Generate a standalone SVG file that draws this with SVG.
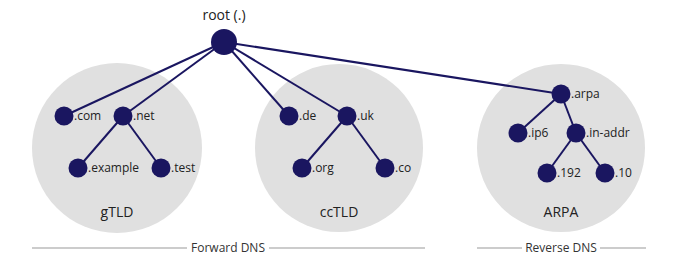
<svg xmlns="http://www.w3.org/2000/svg" width="680" height="268" viewBox="0 0 680 268">
<style>
.zone{fill:#e0e0e0}
.n{fill:#1a1660}
.e{stroke:#1a1660;stroke-width:2;fill:none}
.lbl{font-family:"Open Sans","Noto Sans",sans-serif;font-size:12px;fill:#222}
.big{font-family:"Open Sans","Noto Sans",sans-serif;font-size:14px;fill:#222;text-anchor:middle}
.sec{font-family:"Open Sans","Noto Sans",sans-serif;font-size:12px;fill:#333;text-anchor:middle}
.rule{stroke:#999;stroke-width:1}
</style>
<rect width="680" height="268" fill="#fff"/>
<g id="zone-gtld"><circle class="zone" cx="117" cy="148" r="85"/><text class="big" x="117" y="217">gTLD</text></g>
<g id="zone-cctld"><circle class="zone" cx="339" cy="148" r="84"/><text class="big" x="339" y="217">ccTLD</text></g>
<g id="zone-arpa"><circle class="zone" cx="561" cy="148" r="84"/><text class="big" x="561" y="217">ARPA</text></g>
<g id="connectors">
<line class="e" x1="224" y1="42" x2="64" y2="116"/>
<line class="e" x1="224" y1="42" x2="123" y2="116"/>
<line class="e" x1="224" y1="42" x2="289" y2="116"/>
<line class="e" x1="224" y1="42" x2="347" y2="116"/>
<line class="e" x1="224" y1="42" x2="561" y2="94"/>
<line class="e" x1="123" y1="116" x2="78" y2="168"/>
<line class="e" x1="123" y1="116" x2="161" y2="168"/>
<line class="e" x1="347" y1="116" x2="302" y2="168"/>
<line class="e" x1="347" y1="116" x2="385" y2="168"/>
<line class="e" x1="561" y1="94" x2="518" y2="133"/>
<line class="e" x1="561" y1="94" x2="576" y2="133"/>
<line class="e" x1="576" y1="133" x2="547" y2="173"/>
<line class="e" x1="576" y1="133" x2="605" y2="173"/>
</g>
<g id="root"><circle class="n" cx="224" cy="42" r="13"/><text class="big" x="224" y="20">root (.)</text></g>
<g id="com"><circle class="n" cx="64" cy="116" r="9.5"/><text class="lbl" x="74" y="120">.com</text></g>
<g id="net"><circle class="n" cx="123" cy="116" r="9.5"/><text class="lbl" x="133" y="120">.net</text></g>
<g id="example"><circle class="n" cx="78" cy="168" r="9.5"/><text class="lbl" x="88" y="172">.example</text></g>
<g id="test"><circle class="n" cx="161" cy="168" r="9.5"/><text class="lbl" x="171" y="172">.test</text></g>
<g id="de"><circle class="n" cx="289" cy="116" r="9.5"/><text class="lbl" x="299" y="120">.de</text></g>
<g id="uk"><circle class="n" cx="347" cy="116" r="9.5"/><text class="lbl" x="357" y="120">.uk</text></g>
<g id="org"><circle class="n" cx="302" cy="168" r="9.5"/><text class="lbl" x="312" y="172">.org</text></g>
<g id="co"><circle class="n" cx="385" cy="168" r="9.5"/><text class="lbl" x="395" y="172">.co</text></g>
<g id="arpa"><circle class="n" cx="561" cy="94" r="9.5"/><text class="lbl" x="571" y="98">.arpa</text></g>
<g id="ip6"><circle class="n" cx="518" cy="133" r="9.5"/><text class="lbl" x="528" y="137">.ip6</text></g>
<g id="in-addr"><circle class="n" cx="576" cy="133" r="9.5"/><text class="lbl" x="586" y="137">.in-addr</text></g>
<g id="n192"><circle class="n" cx="547" cy="173" r="9.5"/><text class="lbl" x="557" y="177">.192</text></g>
<g id="n10"><circle class="n" cx="605" cy="173" r="9.5"/><text class="lbl" x="615" y="177">.10</text></g>
<g id="forward">
<line class="rule" x1="32" y1="248" x2="187" y2="248"/>
<line class="rule" x1="269" y1="248" x2="425" y2="248"/>
<text class="sec" x="228" y="252">Forward DNS</text>
</g>
<g id="reverse">
<line class="rule" x1="477" y1="248" x2="522" y2="248"/>
<line class="rule" x1="600" y1="248" x2="646" y2="248"/>
<text class="sec" x="561" y="252">Reverse DNS</text>
</g>
</svg>
